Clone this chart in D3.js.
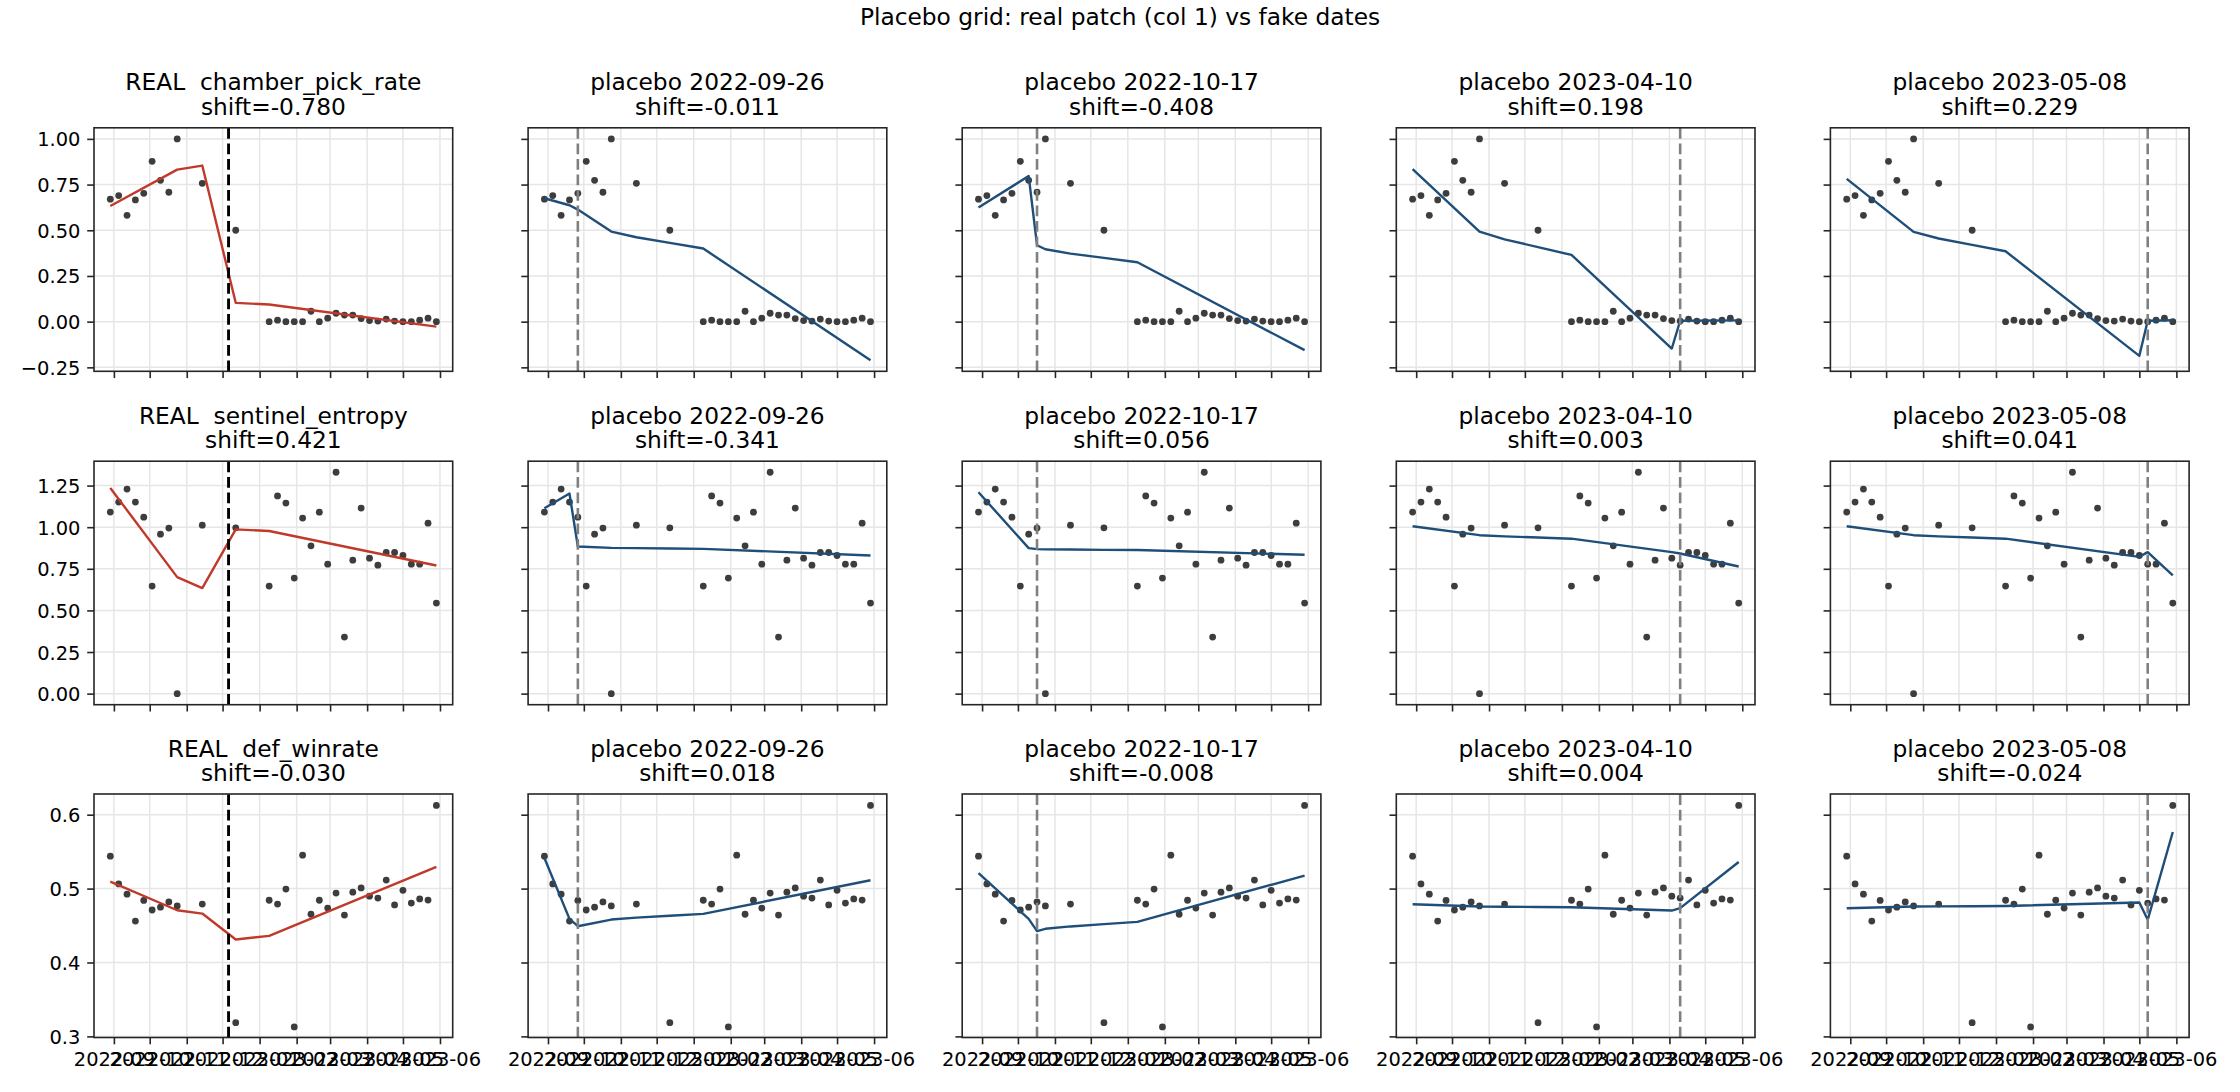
<!DOCTYPE html>
<html>
<head>
<meta charset="utf-8">
<script src="https://cdn.jsdelivr.net/npm/d3@7"></script>
<style>
  body { margin: 0; background: #fff; }
  svg { display: block; font-family: "DejaVu Sans", sans-serif; }
</style>
</head>
<body>
<script>
const width = 2240;
const height = 1092;

// weekly observations (Mondays) with a few gaps
const obsDates = ["2022-08-29", "2022-09-05", "2022-09-12", "2022-09-19", "2022-09-26", "2022-10-03",
    "2022-10-10", "2022-10-17", "2022-10-24", "2022-11-14", "2022-12-12", "2023-01-09", "2023-01-16",
    "2023-01-23", "2023-01-30", "2023-02-06", "2023-02-13", "2023-02-20", "2023-02-27", "2023-03-06",
    "2023-03-13", "2023-03-20", "2023-03-27", "2023-04-03", "2023-04-10", "2023-04-17", "2023-04-24",
    "2023-05-01", "2023-05-08", "2023-05-15", "2023-05-22", "2023-05-29"];

const chamberPickRate = [0.670, 0.690, 0.582, 0.666, 0.702, 0.877, 0.773, 0.708, 1.000, 0.757, 0.500,
    0.000, 0.008, 0.000, 0.000, 0.000, 0.057, 0.000, 0.019, 0.046, 0.036, 0.036, 0.017, 0.006, 0.003,
    0.014, 0.003, 0.000, 0.000, 0.008, 0.019, 0.000];
const sentinelEntropy = [1.091, 1.151, 1.229, 1.151, 1.060, 0.646, 0.958, 0.995, 0.000, 1.012, 0.996,
    0.646, 1.188, 1.145, 0.694, 1.055, 0.888, 1.090, 0.778, 1.330, 0.340, 0.802, 1.115, 0.814, 0.772,
    0.848, 0.848, 0.830, 0.778, 0.778, 1.024, 0.544];
const defWinrate = [0.5439, 0.5063, 0.4925, 0.4561, 0.4840, 0.4710, 0.4748, 0.4820, 0.4766, 0.4790,
    0.3185, 0.4842, 0.4790, 0.4993, 0.3128, 0.5452, 0.4653, 0.4842, 0.4736, 0.4939, 0.4642, 0.4952,
    0.5009, 0.4898, 0.4871, 0.5115, 0.4779, 0.4977, 0.4804, 0.4860, 0.4845, 0.6126];

// column 1 = real patch, the rest are placebo dates
const breakDates = ["2022-12-06", "2022-09-26", "2022-10-17", "2023-04-10", "2023-05-08"];
const metricNames = ["chamber_pick_rate", "sentinel_entropy", "def_winrate"];

const shiftsChamber = [-0.780, -0.011, -0.408, 0.198, 0.229];
const shiftsSentinel = [0.421, -0.341, 0.056, 0.003, 0.041];
const shiftsWinrate = [-0.030, 0.018, -0.008, 0.004, -0.024];

const fitIdx = [
    [0, 8, 9, 10, 11, 31],
    [0, 3, 4, 8, 9, 10, 11, 31],
    [0, 6, 7, 8, 9, 10, 11, 31],
    [0, 8, 9, 10, 11, 23, 24, 31],
    [0, 8, 9, 10, 11, 27, 28, 31]
];
const fitChamber = [
    [0.633, 0.832, 0.854, 0.103, 0.094, -0.027],
    [0.675, 0.637, 0.613, 0.493, 0.462, 0.431, 0.400, -0.211],
    [0.624, 0.797, 0.418, 0.396, 0.372, 0.349, 0.325, -0.156],
    [0.835, 0.493, 0.450, 0.408, 0.365, -0.147, 0.005, 0.007],
    [0.781, 0.491, 0.455, 0.420, 0.385, -0.187, 0.005, 0.008]
];
const fitSentinel = [
    [1.236, 0.700, 0.634, 0.987, 0.977, 0.770],
    [1.114, 1.202, 0.884, 0.876, 0.874, 0.872, 0.870, 0.830],
    [1.210, 0.874, 0.868, 0.867, 0.866, 0.864, 0.863, 0.834],
    [1.006, 0.952, 0.945, 0.938, 0.931, 0.850, 0.842, 0.764],
    [1.006, 0.952, 0.945, 0.938, 0.931, 0.822, 0.850, 0.710]
];
const fitWinrate = [
    [0.5095, 0.4707, 0.4662, 0.4311, 0.4360, 0.5293],
    [0.5414, 0.4590, 0.4491, 0.4581, 0.4607, 0.4632, 0.4658, 0.5113],
    [0.5210, 0.4590, 0.4425, 0.4456, 0.4488, 0.4519, 0.4550, 0.5176],
    [0.4788, 0.4758, 0.4755, 0.4751, 0.4747, 0.4703, 0.4735, 0.5360],
    [0.4734, 0.4757, 0.4760, 0.4762, 0.4765, 0.4811, 0.4577, 0.5766]
];

const yTicksChamber = [-0.25, 0, 0.25, 0.5, 0.75, 1.0];
const yTicksSentinel = [0, 0.25, 0.5, 0.75, 1.0, 1.25];
const yTicksWinrate = [0.3, 0.4, 0.5, 0.6];
const yDomainChamber = [-0.2716, 1.0606];
const yDomainSentinel = [-0.0665, 1.3965];
const yDomainWinrate = [0.2985, 0.628];

const xTickLabels = ["2022-09", "2022-10", "2022-11", "2022-12", "2023-01", "2023-02",
    "2023-03", "2023-04", "2023-05", "2023-06"];

// layout
const panelLeft = 94;
const panelW = 358.7;
const colStep = 434.1;
const rowTops = [127.8, 461.2, 794];
const panelH = 243.5;
const tickFont = "19.44px";
const titleFont = "23.3px";
const realColor = "#c0392b";
const placeboColor = "#1f4e79";
const dotColor = "#3d3d3d";
const gridColor = "#e6e6e6";
const spineColor = "#262626";

const rows = [
    {name: metricNames[0], values: chamberPickRate, shifts: shiftsChamber, fits: fitChamber,
        ticks: yTicksChamber, domain: yDomainChamber, fmt: d3.format(".2f")},
    {name: metricNames[1], values: sentinelEntropy, shifts: shiftsSentinel, fits: fitSentinel,
        ticks: yTicksSentinel, domain: yDomainSentinel, fmt: d3.format(".2f")},
    {name: metricNames[2], values: defWinrate, shifts: shiftsWinrate, fits: fitWinrate,
        ticks: yTicksWinrate, domain: yDomainWinrate, fmt: d3.format(".1f")}
];

const parse = d3.utcParse("%Y-%m-%d");
const dates = obsDates.map(parse);
const pad = (dates[dates.length - 1] - dates[0]) * 0.05;
const x = d3.scaleUtc()
    .domain([new Date(+dates[0] - pad), new Date(+dates[dates.length - 1] + pad)])
    .range([0, panelW]);
const xTicks = xTickLabels.map(s => parse(s + "-01"));

const svg = d3.select("body")
    .append("svg")
    .attr("width", width)
    .attr("height", height);

svg.append("rect")
    .attr("width", width)
    .attr("height", height)
    .attr("fill", "#fff");

svg.append("text")
    .attr("x", width / 2)
    .attr("y", 25)
    .attr("text-anchor", "middle")
    .style("font-size", titleFont)
    .text("Placebo grid: real patch (col 1) vs fake dates");

rows.forEach((row, r) => {
    const y = d3.scaleLinear().domain(row.domain).range([panelH, 0]);

    breakDates.forEach((bd, c) => {
        const g = svg.append("g")
            .attr("transform", `translate(${panelLeft + c * colStep},${rowTops[r]})`);

        // grid
        g.selectAll(".gx")
            .data(xTicks)
            .enter()
            .append("line")
            .attr("x1", d => x(d)).attr("x2", d => x(d))
            .attr("y1", 0).attr("y2", panelH)
            .attr("stroke", gridColor)
            .attr("stroke-width", 1.5);
        g.selectAll(".gy")
            .data(row.ticks)
            .enter()
            .append("line")
            .attr("x1", 0).attr("x2", panelW)
            .attr("y1", d => y(d)).attr("y2", d => y(d))
            .attr("stroke", gridColor)
            .attr("stroke-width", 1.5);

        // axes
        const xAxis = g.append("g")
            .attr("transform", `translate(0,${panelH})`)
            .call(d3.axisBottom(x)
                .tickValues(xTicks)
                .tickSize(6.8)
                .tickPadding(6.8)
                .tickFormat((d, i) => r === 2 ? xTickLabels[i] : ""));
        const yAxis = g.append("g")
            .call(d3.axisLeft(y)
                .tickValues(row.ticks)
                .tickSize(6.8)
                .tickPadding(6.8)
                .tickFormat(d => c === 0 ? row.fmt(d) : ""));
        [xAxis, yAxis].forEach(ax => {
            ax.select(".domain").remove();
            ax.attr("font-family", "DejaVu Sans").attr("font-size", tickFont);
            ax.selectAll("line").attr("stroke", spineColor).attr("stroke-width", 1.6);
            ax.selectAll("text").attr("fill", "#000");
        });
        xAxis.selectAll("text").attr("dy", "0.76em");
        yAxis.selectAll("text").attr("dy", "0.36em");

        // points
        g.selectAll("circle")
            .data(row.values)
            .enter()
            .append("circle")
            .attr("cx", (d, i) => x(dates[i]))
            .attr("cy", d => y(d))
            .attr("r", 3.4)
            .attr("fill", dotColor);

        // fitted segments
        const idx = fitIdx[c];
        const vals = row.fits[c];
        g.append("path")
            .attr("d", d3.line()
                .x(i => x(dates[i]))
                .y((i, k) => y(vals[k]))(idx))
            .attr("fill", "none")
            .attr("stroke", c === 0 ? realColor : placeboColor)
            .attr("stroke-width", 2.4)
            .attr("stroke-linejoin", "round");

        // break date
        const bx = x(parse(bd));
        g.append("line")
            .attr("x1", bx).attr("x2", bx)
            .attr("y1", panelH).attr("y2", 0)
            .attr("stroke", c === 0 ? "#000" : "#808080")
            .attr("stroke-width", c === 0 ? 2.9 : 2.6)
            .attr("stroke-dasharray", "10.8,4.7");

        // spines
        g.append("rect")
            .attr("width", panelW)
            .attr("height", panelH)
            .attr("fill", "none")
            .attr("stroke", spineColor)
            .attr("stroke-width", 1.6);

        // title
        const title = g.append("text")
            .attr("text-anchor", "middle")
            .style("font-size", titleFont)
            .style("white-space", "pre");
        title.append("tspan")
            .attr("x", panelW / 2)
            .attr("y", -37.5)
            .text(c === 0 ? `REAL  ${row.name}` : `placebo ${bd}`);
        title.append("tspan")
            .attr("x", panelW / 2)
            .attr("y", -13)
            .text(`shift=${row.shifts[c].toFixed(3)}`);
    });
});
</script>
</body>
</html>
